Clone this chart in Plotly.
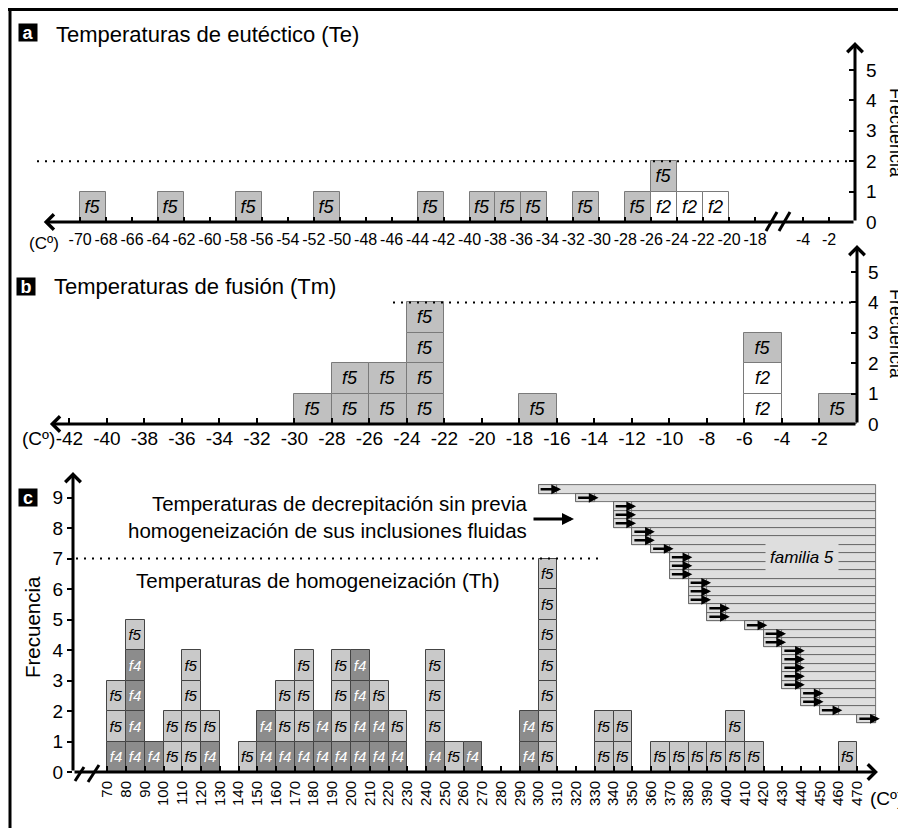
import plotly.graph_objects as go

FONT = "Liberation Sans, Arial, sans-serif"
# page body adds an 8px margin; the figure is sized to the visible area
OFF = 8
W, H = 906 - OFF, 828 - OFF

# ---------------- Panel a: Temperaturas de eutéctico (Te) ----------------
te_bins = [-70, -64, -58, -52, -44, -40, -38, -36, -32, -28, -26, -24, -22]
te_f2 = [0, 0, 0, 0, 0, 0, 0, 0, 0, 0, 1, 1, 1]
te_f5 = [1, 1, 1, 1, 1, 1, 1, 1, 1, 1, 1, 0, 0]
te_ticks = list(range(-70, -17, 2)) + [-4, -2]
te_ymax_line = 2

# ---------------- Panel b: Temperaturas de fusión (Tm) ----------------
tm_bins = [-30, -28, -26, -24, -18, -6, -2]
tm_f2 = [0, 0, 0, 0, 0, 2, 0]
tm_f5 = [1, 2, 2, 4, 1, 1, 1]
tm_ticks = list(range(-42, -1, 2))
tm_ymax_line = 4

# ---------------- Panel c: Temperaturas de homogeneización (Th) ----------------
th_bins = list(range(70, 471, 10))
th_f4 = [1, 4, 1, 0, 0, 1, 0, 0, 2, 1, 1, 2, 1, 4, 2, 1, 0, 1, 0, 1, 0,
         0, 2, 0, 0, 0, 0, 0, 0, 0, 0, 0, 0, 0, 0, 0, 0, 0, 0, 0, 0]
th_f5 = [2, 1, 0, 2, 4, 1, 0, 1, 0, 2, 3, 0, 3, 0, 1, 1, 0, 3, 1, 0, 0,
         0, 0, 7, 0, 0, 2, 2, 0, 1, 1, 1, 1, 2, 1, 0, 0, 0, 0, 1, 0]
th_ticks = list(range(70, 471, 10))
th_ymax_line = 7
# Decrepitation without previous homogenization (familia 5): start temperatures
dec_starts = [300, 320, 340, 340, 340, 350, 350, 360, 370, 370, 370,
              380, 380, 380, 390, 390, 410, 420, 420, 430, 430, 430, 430, 430,
              440, 440, 450, 470]
dec_end = 480

# ---------------- geometry helpers (window pixels -> paper) ----------------
def px(x):
    return (x - OFF) / W

def py(y):
    return 1 - (y - OFF) / H

TE_SHIFT = 10.3  # compressed (broken) part of Te axis


def te_pos(t):
    return t if t <= -18 else t - TE_SHIFT


C_F5 = "#c0c0c0"
C_F2 = "#ffffff"
C_F4c = "#8c8c8c"
C_F5c = "#c9c9c9"
C_DEC = "#dedede"

fig = go.Figure()


def add_cells(bins, lower, upper, width, pos, fams, xa, ya, fsize, lc):
    for k, counts in enumerate([lower, upper]):
        xs, bases = [], []
        for b, cl, cnt in zip(bins, lower, counts):
            off = 0 if k == 0 else cl
            for j in range(cnt):
                xs.append(pos(b) + width / 2)
                bases.append(off + j)
        if not xs:
            continue
        lab, fill, tc = fams[k]
        fig.add_trace(go.Bar(
            x=xs, y=[1] * len(xs), base=bases, width=width,
            marker=dict(color=fill, line=dict(color=lc, width=1)),
            text=[lab] * len(xs), textposition="inside", insidetextanchor="middle",
            textangle=0, constraintext="none",
            textfont=dict(family=FONT, size=fsize, color=tc, style="italic"),
            xaxis=xa, yaxis=ya, hoverinfo="skip", showlegend=False))


add_cells(te_bins, te_f2, te_f5, 2, te_pos,
          [("f2", C_F2, "black"), ("f5", C_F5, "black")], "x", "y", 18, "#7a7a7a")
add_cells(tm_bins, tm_f2, tm_f5, 2, lambda t: t,
          [("f2", C_F2, "black"), ("f5", C_F5, "black")], "x2", "y2", 18, "#7a7a7a")
add_cells(th_bins, th_f4, th_f5, 10, lambda t: t,
          [("f4", C_F4c, "white"), ("f5", C_F5c, "black")], "x3", "y3", 15, "#444444")

# decrepitation rows
rows = list(range(len(dec_starts)))
fig.add_trace(go.Bar(
    y=rows, x=[dec_end - s for s in dec_starts], base=dec_starts, orientation="h",
    width=1, marker=dict(color=C_DEC, line=dict(color="#555555", width=0.8)),
    xaxis="x3", yaxis="y4", hoverinfo="skip", showlegend=False))
fig.add_trace(go.Bar(
    y=rows, x=[10] * len(rows), base=dec_starts, orientation="h",
    width=1, marker=dict(color=C_DEC, line=dict(color="#555555", width=0.8)),
    xaxis="x3", yaxis="y4", hoverinfo="skip", showlegend=False))

annotations = []
for i, s in enumerate(dec_starts):
    annotations.append(dict(x=s + 12, y=i, ax=s + 0.3, ay=i, xref="x3", yref="y4",
                            axref="x3", ayref="y4", showarrow=True, arrowhead=2,
                            arrowsize=0.75, arrowwidth=2.6, arrowcolor="black", text=""))

# ---------------- axes ----------------
A_RANGE = [-73.09, -10.3]
A_Y = [0, 5.92]
B_RANGE = [-43.3, 0]
B_Y = [0, 5.89]
C_RANGE = [51.7, 482.1]
C_Y = [0, 9.84]

common = dict(showgrid=False, zeroline=False, showline=False, automargin=False,
              fixedrange=True, tickcolor="black", tickwidth=1.5)

fig.update_layout(
    xaxis=dict(domain=[px(40), px(855)], range=A_RANGE, anchor="y",
               tickvals=[te_pos(t) for t in te_ticks], ticktext=[str(t) for t in te_ticks],
               ticks="inside", ticklen=5, ticklabelstandoff=6,
               tickfont=dict(family=FONT, size=16, color="black"), **common),
    yaxis=dict(domain=[py(222), py(42)], range=A_Y, anchor="x", side="right",
               tickvals=list(range(0, 6)), ticks="inside", ticklen=6, ticklabelstandoff=10,
               tickfont=dict(family=FONT, size=19, color="black"), **common),
    xaxis2=dict(domain=[px(45), px(857)], range=B_RANGE, anchor="y2",
                tickvals=tm_ticks, ticktext=[str(t) for t in tm_ticks],
                ticks="inside", ticklen=6, ticklabelstandoff=1,
                tickfont=dict(family=FONT, size=19, color="black"), **common),
    yaxis2=dict(domain=[py(424), py(245)], range=B_Y, anchor="x2", side="right",
                tickvals=list(range(0, 6)), ticks="inside", ticklen=6, ticklabelstandoff=10,
                tickfont=dict(family=FONT, size=19, color="black"), **common),
    xaxis3=dict(domain=[px(73), px(880)], range=C_RANGE, anchor="y3",
                tickvals=th_ticks, tickangle=-90,
                ticks="inside", ticklen=6, ticklabelstandoff=5,
                tickfont=dict(family=FONT, size=15, color="black"), **common),
    yaxis3=dict(domain=[py(772), py(472)], range=C_Y, anchor="x3",
                tickvals=list(range(0, 10)), ticks="outside", ticklen=5,
                tickfont=dict(family=FONT, size=19, color="black"), **common),
    yaxis4=dict(domain=[py(772), py(472)], range=[33.26, -2.03], anchor="x3",
                overlaying="y3", visible=False, showgrid=False, zeroline=False,
                fixedrange=True),
)

# ---------------- axis lines with arrows ----------------
AX = dict(showarrow=True, arrowhead=4, arrowsize=1, arrowwidth=3, arrowcolor="black", text="")
annotations += [
    dict(x=-72.8, y=0, ax=te_pos(0), ay=0, xref="x", yref="y", axref="x", ayref="y", **AX),
    dict(x=te_pos(0), y=5.92, ax=te_pos(0), ay=0, xref="x", yref="y", axref="x", ayref="y", **AX),
    dict(x=-43.04, y=0, ax=0, ay=0, xref="x2", yref="y2", axref="x2", ayref="y2", **AX),
    dict(x=0, y=5.89, ax=0, ay=0, xref="x2", yref="y2", axref="x2", ayref="y2", **AX),
    dict(x=481, y=0, ax=51.7, ay=0, xref="x3", yref="y3", axref="x3", ayref="y3", **AX),
    dict(x=51.7, y=9.84, ax=51.7, ay=0, xref="x3", yref="y3", axref="x3", ayref="y3", **AX),
]

# arrow pointing to decrepitation rows
annotations.append(dict(x=px(574), y=py(519), ax=-42, ay=0, xref="paper", yref="paper",
                        axref="pixel", ayref="pixel", showarrow=True, arrowhead=2, arrowsize=0.8,
                        arrowwidth=3, arrowcolor="black", text=""))


def label_box(letter, cx, cy):
    return dict(x=px(cx), y=py(cy), xref="paper", yref="paper", text="<b>%s</b>" % letter,
                showarrow=False, bgcolor="black", width=18, height=17, borderpad=0,
                xanchor="center", yanchor="middle",
                font=dict(family=FONT, size=18, color="white"))


def txt(t, cx, cy, size, xanchor="center", angle=0, italic=False, bg=None, align="center"):
    d = dict(x=px(cx), y=py(cy), xref="paper", yref="paper", text=t, showarrow=False,
             xanchor=xanchor, yanchor="middle", textangle=angle, align=align,
             font=dict(family=FONT, size=size, color="black",
                       style="italic" if italic else "normal"))
    if bg:
        d["bgcolor"] = bg
        d["borderpad"] = 4
    return d


annotations += [
    label_box("a", 28, 32),
    txt("Temperaturas de eutéctico (Te)", 54, 34, 22, xanchor="left"),
    label_box("b", 26, 286),
    txt("Temperaturas de fusión (Tm)", 52, 286, 22, xanchor="left"),
    label_box("c", 28, 497),
    txt("Temperaturas de decrepitación sin previa<br>homogeneización de sus inclusiones fluidas",
        529, 517, 20.5, xanchor="right", align="right"),
    txt("Temperaturas de homogeneización (Th)", 318, 580, 20.5),
    txt("familia 5", 802, 557, 17, italic=True, bg=C_DEC),
    txt("(Cº)", 44, 243, 17),
    txt("(Cº)", 38, 438, 19),
    txt("(Cº)", 886, 798, 19),
    txt("Frecuencia", 896, 133, 18, angle=90),
    txt("Frecuencia", 896, 334, 18, angle=90),
    txt("Frecuencia", 32, 627, 20.5, angle=-90),
]

# ---------------- shapes: frame, dotted reference lines, axis breaks ----------------
shapes = [
    dict(type="line", xref="paper", yref="paper", x0=px(8), x1=1, y0=1 - 1.5 / H, y1=1 - 1.5 / H,
         line=dict(color="black", width=3)),
    dict(type="line", xref="paper", yref="paper", x0=px(10), x1=px(10), y0=0, y1=1,
         line=dict(color="black", width=3)),
    dict(type="line", xref="paper", yref="y", x0=px(37), x1=px(853), y0=te_ymax_line, y1=te_ymax_line,
         line=dict(color="black", width=2, dash="2px,6px")),
    dict(type="line", xref="paper", yref="y2", x0=px(393), x1=px(855), y0=tm_ymax_line, y1=tm_ymax_line,
         line=dict(color="black", width=2, dash="2px,6px")),
    dict(type="line", xref="paper", yref="y3", x0=px(76), x1=px(604), y0=th_ymax_line, y1=th_ymax_line,
         line=dict(color="black", width=2, dash="2px,6px")),
]
# axis break marks
for (x0, y0, x1, y1) in [(766, 231, 777, 212), (779, 231, 790, 212),
                         (75, 781, 84, 767), (88, 782, 99, 765)]:
    shapes.append(dict(type="line", xref="paper", yref="paper", x0=px(x0), y0=py(y0),
                       x1=px(x1), y1=py(y1), line=dict(color="black", width=3)))

fig.update_layout(
    width=W, height=H, margin=dict(l=0, r=0, t=0, b=0),
    paper_bgcolor="white", plot_bgcolor="rgba(0,0,0,0)",
    barmode="overlay", bargap=0, showlegend=False,
    font=dict(family=FONT, color="black"),
    annotations=annotations, shapes=shapes,
)

fig.write_html("out.html")
